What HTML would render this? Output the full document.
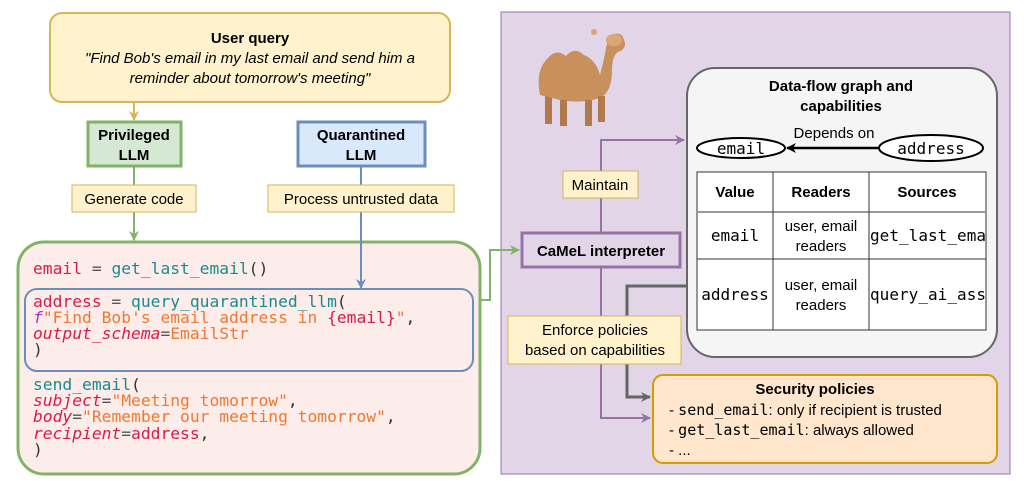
<!DOCTYPE html>
<html><head><meta charset="utf-8"><style>
body{margin:0;background:#fff;}
svg text{font-family:"Liberation Sans",sans-serif;}
.m{font-family:"DejaVu Sans Mono","Liberation Mono",monospace !important;}
</style></head><body>
<svg width="1024" height="478" viewBox="0 0 1024 478" xmlns="http://www.w3.org/2000/svg">
<defs>
<marker id="ay" markerWidth="10" markerHeight="10" refX="9" refY="5" orient="auto" markerUnits="userSpaceOnUse"><path d="M0,0 L10,5 L0,10 L3,5Z" fill="#d6b656"/></marker>
<marker id="ag" markerWidth="10" markerHeight="10" refX="9" refY="5" orient="auto" markerUnits="userSpaceOnUse"><path d="M0,0 L10,5 L0,10 L3,5Z" fill="#82b366"/></marker>
<marker id="ab" markerWidth="10" markerHeight="10" refX="9" refY="5" orient="auto" markerUnits="userSpaceOnUse"><path d="M0,0 L10,5 L0,10 L3,5Z" fill="#6c8ebf"/></marker>
<marker id="ap" markerWidth="10" markerHeight="10" refX="9" refY="5" orient="auto" markerUnits="userSpaceOnUse"><path d="M0,0 L10,5 L0,10 L3,5Z" fill="#9673a6"/></marker>
<marker id="ak" markerWidth="10" markerHeight="10" refX="9" refY="5" orient="auto" markerUnits="userSpaceOnUse"><path d="M0,0 L10,5 L0,10 L3,5Z" fill="#666"/></marker>
<marker id="aK" markerWidth="10" markerHeight="10" refX="9" refY="5" orient="auto" markerUnits="userSpaceOnUse"><path d="M0,0 L10,5 L0,10 L3,5Z" fill="#000"/></marker>
</defs>
<rect x="501" y="12" width="509" height="462" fill="#e1d5e7" stroke="#9673a6" stroke-width="1"/>
<rect x="50" y="13" width="400" height="89" rx="12" fill="#fff2cc" stroke="#d6b656" stroke-width="2"/>
<text x="250" y="43" text-anchor="middle" font-size="15" font-weight="bold">User query</text>
<text x="250" y="63" text-anchor="middle" font-size="15" font-style="italic">"Find Bob's email in my last email and send him a</text>
<text x="250" y="83" text-anchor="middle" font-size="15" font-style="italic">reminder about tomorrow's meeting"</text>
<line x1="134" y1="102" x2="134" y2="120" stroke="#d6b656" stroke-width="2" marker-end="url(#ay)"/>
<rect x="88" y="122" width="93" height="44" fill="#d5e8d4" stroke="#82b366" stroke-width="3"/>
<text x="134" y="140" text-anchor="middle" font-size="15" font-weight="bold">Privileged</text>
<text x="134" y="160" text-anchor="middle" font-size="15" font-weight="bold">LLM</text>
<line x1="134" y1="166" x2="134" y2="240" stroke="#82b366" stroke-width="2" marker-end="url(#ag)"/>
<rect x="72" y="185" width="124" height="27" fill="#fff2cc" stroke="#d6b656"/>
<text x="134" y="204" text-anchor="middle" font-size="15">Generate code</text>
<rect x="298" y="122" width="127" height="44" fill="#dae8fc" stroke="#6c8ebf" stroke-width="3"/>
<text x="361" y="140" text-anchor="middle" font-size="15" font-weight="bold">Quarantined</text>
<text x="361" y="160" text-anchor="middle" font-size="15" font-weight="bold">LLM</text>
<rect x="18" y="242" width="462" height="232" rx="26" fill="#fdedea" stroke="#82b366" stroke-width="3"/>
<line x1="361" y1="166" x2="361" y2="288" stroke="#6c8ebf" stroke-width="2" marker-end="url(#ab)"/>
<rect x="268" y="185" width="186" height="27" fill="#fff2cc" stroke="#d6b656"/>
<text x="361" y="204" text-anchor="middle" font-size="15">Process untrusted data</text>
<rect x="25" y="289" width="448" height="82" rx="12" fill="none" stroke="#6c8ebf" stroke-width="2"/>
<g font-size="16.3">
<text class="m" x="33" y="274"><tspan fill="#d81b47">email</tspan><tspan fill="#555"> = </tspan><tspan fill="#1a8a8a">get_last_email</tspan><tspan fill="#333">()</tspan></text>
<text class="m" x="33" y="307"><tspan fill="#d81b47">address</tspan><tspan fill="#555"> = </tspan><tspan fill="#1a8a8a">query_quarantined_llm</tspan><tspan fill="#333">(</tspan></text>
<text class="m" x="33" y="323"><tspan fill="#9933cc" font-style="italic">f</tspan><tspan fill="#f07830">"Find Bob's email address in </tspan><tspan fill="#d81b47">{email}</tspan><tspan fill="#f07830">"</tspan><tspan fill="#333">,</tspan></text>
<text class="m" x="33" y="339"><tspan fill="#d81b47" font-style="italic">output_schema</tspan><tspan fill="#555">=</tspan><tspan fill="#f07830">EmailStr</tspan></text>
<text class="m" x="33" y="355" fill="#333">)</text>
<text class="m" x="33" y="390" fill="#1a8a8a">send_email<tspan fill="#333">(</tspan></text>
<text class="m" x="33" y="406"><tspan fill="#d81b47" font-style="italic">subject</tspan><tspan fill="#555">=</tspan><tspan fill="#f07830">"Meeting tomorrow"</tspan><tspan fill="#333">,</tspan></text>
<text class="m" x="33" y="422"><tspan fill="#d81b47" font-style="italic">body</tspan><tspan fill="#555">=</tspan><tspan fill="#f07830">"Remember our meeting tomorrow"</tspan><tspan fill="#333">,</tspan></text>
<text class="m" x="33" y="439"><tspan fill="#d81b47" font-style="italic">recipient</tspan><tspan fill="#555">=</tspan><tspan fill="#d81b47">address</tspan><tspan fill="#333">,</tspan></text>
<text class="m" x="33" y="455" fill="#333">)</text>
</g>
<polyline points="480,300 490,300 490,250 519,250" fill="none" stroke="#82b366" stroke-width="2" marker-end="url(#ag)"/>
<!-- camel -->
<g>
<path d="M540,95 Q535,70 548,58 Q556,48 566,56 Q574,46 584,55 Q596,60 600,75 Q604,60 606,48 Q608,38 614,34 Q622,32 624,40 Q628,48 618,52 Q612,56 612,70 Q612,92 600,98 Q580,104 560,100 Z" fill="#c8905c"/>
<ellipse cx="614" cy="40" rx="8" ry="6" fill="#d9a676"/>
<circle cx="594" cy="32" r="3" fill="#d9a676"/>
<path d="M545,96 L545,124 L552,124 L552,98Z M560,100 L560,126 L567,126 L567,100Z M585,100 L585,126 L592,126 L592,100Z M598,96 L598,122 L605,122 L605,96Z" fill="#b07a4c"/>
</g>
<rect x="522" y="233" width="158" height="34" fill="#e1d5e7" stroke="#9673a6" stroke-width="3"/>
<text x="601" y="256" text-anchor="middle" font-size="15" font-weight="bold">CaMeL interpreter</text>
<polyline points="601,233 601,140 684,140" fill="none" stroke="#9673a6" stroke-width="2" marker-end="url(#ap)"/>
<rect x="563" y="171" width="75" height="27" fill="#fff2cc" stroke="#d6b656"/>
<text x="600" y="190" text-anchor="middle" font-size="15">Maintain</text>
<polyline points="601,267 601,418 650,418" fill="none" stroke="#9673a6" stroke-width="2" marker-end="url(#ap)"/>
<polyline points="688,286 627,286 627,397 650,397" fill="none" stroke="#666" stroke-width="3" marker-end="url(#ak)"/>
<rect x="508" y="316" width="173" height="48" fill="#fff2cc" stroke="#d6b656"/>
<text x="595" y="335" text-anchor="middle" font-size="15">Enforce policies</text>
<text x="595" y="355" text-anchor="middle" font-size="15">based on capabilities</text>
<rect x="687" y="68" width="310" height="289" rx="28" fill="#f5f5f5" stroke="#666" stroke-width="2"/>
<text x="841" y="91" text-anchor="middle" font-size="15" font-weight="bold">Data-flow graph and</text>
<text x="841" y="111" text-anchor="middle" font-size="15" font-weight="bold">capabilities</text>
<text x="834" y="138" text-anchor="middle" font-size="15">Depends on</text>
<ellipse cx="741" cy="148" rx="44" ry="10" fill="#fff" stroke="#000" stroke-width="2"/>
<text class="m" x="741" y="154" text-anchor="middle" font-size="16">email</text>
<ellipse cx="931" cy="148" rx="52" ry="13" fill="#fff" stroke="#000" stroke-width="2"/>
<text class="m" x="931" y="154" text-anchor="middle" font-size="16">address</text>
<line x1="879" y1="148" x2="787" y2="148" stroke="#000" stroke-width="2.5" marker-end="url(#aK)"/>
<rect x="697" y="172" width="289" height="158" fill="#fff" stroke="#333"/>
<line x1="697" y1="212" x2="986" y2="212" stroke="#999" stroke-width="2"/>
<line x1="697" y1="259" x2="986" y2="259" stroke="#333"/>
<line x1="773" y1="172" x2="773" y2="330" stroke="#333"/>
<line x1="869" y1="172" x2="869" y2="330" stroke="#333"/>
<text x="735" y="197" text-anchor="middle" font-size="15" font-weight="bold">Value</text>
<text x="821" y="197" text-anchor="middle" font-size="15" font-weight="bold">Readers</text>
<text x="927" y="197" text-anchor="middle" font-size="15" font-weight="bold">Sources</text>
<text class="m" x="735" y="241" text-anchor="middle" font-size="16">email</text>
<text x="821" y="231" text-anchor="middle" font-size="15">user, email</text>
<text x="821" y="251" text-anchor="middle" font-size="15">readers</text>
<text class="m" x="870" y="241" font-size="16" textLength="116">get_last_ema</text>
<text class="m" x="735" y="300" text-anchor="middle" font-size="16">address</text>
<text x="821" y="290" text-anchor="middle" font-size="15">user, email</text>
<text x="821" y="310" text-anchor="middle" font-size="15">readers</text>
<text class="m" x="870" y="300" font-size="16" textLength="116">query_ai_ass</text>
<rect x="653" y="375" width="344" height="88" rx="10" fill="#ffe6cc" stroke="#d79b00" stroke-width="2"/>
<text x="815" y="394" text-anchor="middle" font-size="15" font-weight="bold">Security policies</text>
<text x="669" y="415" font-size="15">- <tspan class="m">send_email</tspan>: only if recipient is trusted</text>
<text x="669" y="435" font-size="15">- <tspan class="m">get_last_email</tspan>: always allowed</text>
<text x="669" y="455" font-size="15">- ...</text>
</svg>
</body></html>
